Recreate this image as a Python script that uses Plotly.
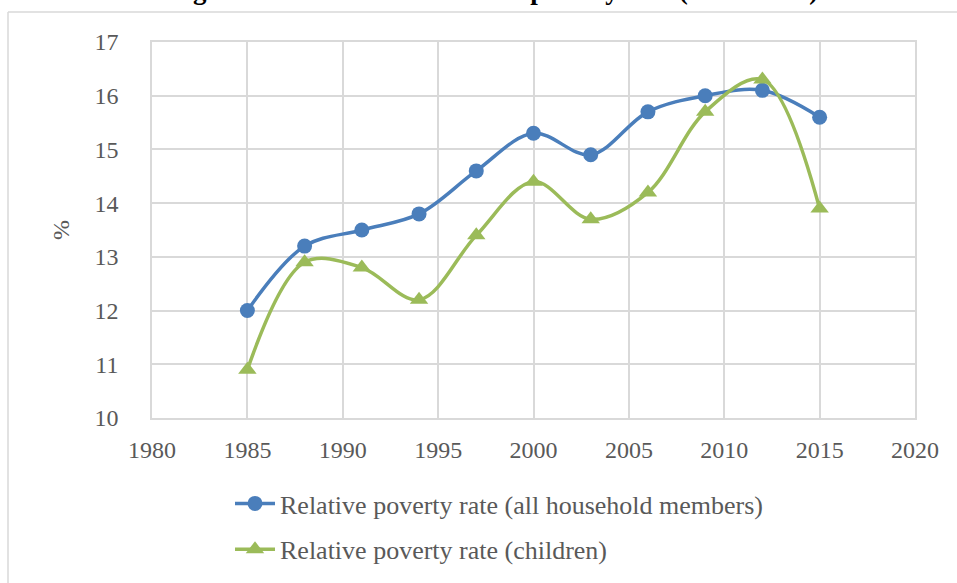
import plotly.graph_objects as go

# Survey years and relative poverty rates (%)
years = [1985, 1988, 1991, 1994, 1997, 2000, 2003, 2006, 2009, 2012, 2015]
rate_all = [12.0, 13.2, 13.5, 13.8, 14.6, 15.3, 14.9, 15.7, 16.0, 16.1, 15.6]
rate_children = [10.9, 12.9, 12.8, 12.2, 13.4, 14.4, 13.7, 14.2, 15.7, 16.3, 13.9]

x_ticks = list(range(1980, 2021, 5))
y_ticks = list(range(10, 18))

name_all = "Relative poverty rate (all household members)"
name_children = "Relative poverty rate (children)"
title_text = "Figure 1. Trends in the relative poverty rate (1985\u20132015)"

BLUE = "#4a7ebb"
GREEN = "#9bbb59"
GRID = "#d9d9d9"
TEXT = "#595959"
FONT = "Liberation Serif"

W, H = 957, 583
L, R, T, B = 152, 42, 42, 165
pw, ph = W - L - R, H - T - B


def px_to_paper_x(px):
    return (px - L) / pw


def px_to_paper_y(py):
    return (H - B - py) / ph


fig = go.Figure()
fig.add_trace(go.Scatter(
    x=years, y=rate_all, name=name_all, legendgroup="a",
    mode="lines+markers",
    line=dict(color=BLUE, width=3.5, shape="spline", smoothing=1.0),
    marker=dict(symbol="circle", size=15, color=BLUE),
))
fig.add_trace(go.Scatter(
    x=years, y=rate_children, name=name_children, legendgroup="c",
    mode="lines+markers",
    line=dict(color=GREEN, width=3.5, shape="spline", smoothing=1.0),
    marker=dict(symbol="triangle-up", size=16, color=GREEN),
))

# Chart-area frame
fig.add_shape(type="line", xref="paper", yref="paper",
              x0=px_to_paper_x(8), x1=px_to_paper_x(8),
              y0=px_to_paper_y(12), y1=px_to_paper_y(H + 20),
              line=dict(color=GRID, width=1.5))
fig.add_shape(type="line", xref="paper", yref="paper",
              x0=px_to_paper_x(8), x1=px_to_paper_x(W + 20),
              y0=px_to_paper_y(12), y1=px_to_paper_y(12),
              line=dict(color=GRID, width=1.5))

fig.add_annotation(
    text=f"<b>{title_text}</b>", xref="paper", yref="paper",
    x=px_to_paper_x(493), y=px_to_paper_y(7),
    xanchor="center", yanchor="bottom", showarrow=False,
    font=dict(family=FONT, size=27, color="#000000"),
)

fig.update_layout(
    width=W, height=H,
    margin=dict(l=L, r=R, t=T, b=B, autoexpand=False),
    paper_bgcolor="white", plot_bgcolor="white",
    font=dict(family=FONT, size=24, color=TEXT),
    showlegend=True,
    legend=dict(
        x=px_to_paper_x(230), y=px_to_paper_y(480),
        xanchor="left", yanchor="top",
        orientation="v", tracegroupgap=9,
        font=dict(family=FONT, size=26, color=TEXT),
        itemwidth=40,
    ),
    xaxis=dict(
        range=[1980, 2020], tickvals=x_ticks, automargin=False,
        showgrid=True, gridcolor=GRID, gridwidth=1.5,
        showline=True, linecolor=GRID, linewidth=1.5, mirror=True,
        ticks="outside", ticklen=9, tickcolor="rgba(0,0,0,0)",
        zeroline=False,
    ),
    yaxis=dict(
        range=[10, 17], tickvals=y_ticks, automargin=False,
        showgrid=True, gridcolor=GRID, gridwidth=1.5,
        showline=True, linecolor=GRID, linewidth=1.5, mirror=True,
        ticks="outside", ticklen=27, tickcolor="rgba(0,0,0,0)",
        zeroline=False,
        title=dict(text="%", standoff=18, font=dict(size=24, color=TEXT)),
    ),
)

fig.write_html("out.html")
